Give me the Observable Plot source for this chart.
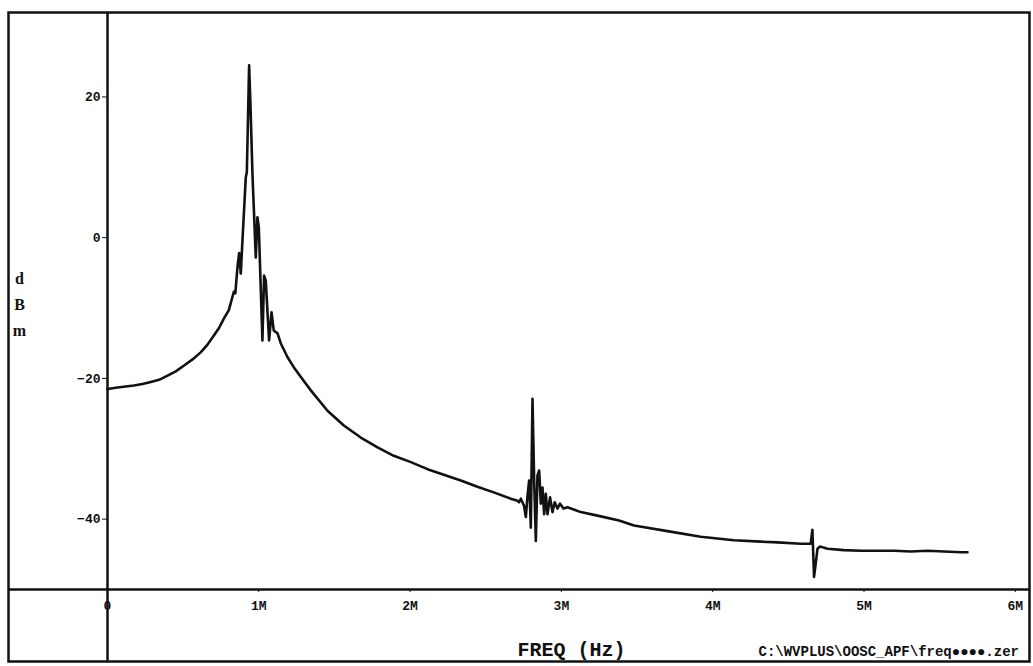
<!DOCTYPE html>
<html>
<head>
<meta charset="utf-8">
<script src="https://cdn.jsdelivr.net/npm/d3@7"></script>
<script src="https://cdn.jsdelivr.net/npm/@observablehq/plot@0.6"></script>
<style>
  html, body { margin: 0; padding: 0; background: #fff; }
  #chart { width: 1033px; height: 666px; overflow: hidden; }
</style>
</head>
<body>
<div id="chart"></div>
<script>
// Frequency in MHz
const freqMHz = [
  0, 0.066, 0.174, 0.231, 0.286, 0.341, 0.397, 0.451, 0.504, 0.562,
  0.616, 0.661, 0.703, 0.738, 0.769, 0.802, 0.826,
  0.835, 0.845, 0.859, 0.870, 0.881, 0.892, 0.914, 0.921, 0.936, 0.944,
  0.958, 0.980, 0.991, 1.000, 1.024, 1.035, 1.046, 1.068, 1.084, 1.099,
  1.124, 1.145, 1.190, 1.231, 1.278, 1.344, 1.454, 1.562, 1.674, 1.785,
  1.892, 2.005, 2.115, 2.223, 2.335, 2.445, 2.553, 2.666, 2.710, 2.720,
  2.732, 2.753, 2.765, 2.776, 2.787, 2.798, 2.809, 2.820, 2.831, 2.842,
  2.853, 2.864, 2.875, 2.886, 2.897, 2.908, 2.925, 2.941, 2.956, 2.974,
  2.991, 3.014, 3.040, 3.128, 3.239, 3.381, 3.480, 3.701, 3.921, 4.141,
  4.318, 4.428, 4.582, 4.648, 4.659, 4.670, 4.693, 4.708, 4.726, 4.759,
  4.868, 4.979, 5.089, 5.199, 5.309, 5.420, 5.529, 5.640, 5.684
];
// Level in dBm
const levelDbm = [
  -21.5, -21.3, -21.0, -20.8, -20.5, -20.2, -19.6, -19.0, -18.2, -17.3,
  -16.3, -15.2, -13.9, -12.8, -11.5, -10.3, -8.4,
  -7.7, -7.9, -4.2, -2.2, -5.1, -0.4, 8.6, 9.3, 24.5, 19.5,
  9.1, -2.8, 2.9, 1.5, -14.6, -5.4, -6.1, -14.6, -10.6, -13.2,
  -13.6, -15.0, -17.0, -18.4, -19.8, -21.7, -24.6, -26.7, -28.4, -29.8,
  -31.0, -31.9, -32.9, -33.7, -34.5, -35.4, -36.2, -37.1, -37.4, -37.6,
  -37.1, -38.1, -39.7, -36.7, -34.5, -41.2, -22.9, -34.5, -43.1, -33.8,
  -33.1, -37.8, -35.5, -39.3, -36.4, -39.3, -36.9, -39.0, -37.6, -38.5,
  -37.8, -38.5, -38.3, -39.0, -39.5, -40.2, -40.9, -41.7, -42.5, -43.0,
  -43.2, -43.3, -43.5, -43.5, -41.5, -48.2, -44.2, -43.9, -44.0, -44.2,
  -44.4, -44.5, -44.5, -44.5, -44.6, -44.5, -44.6, -44.7, -44.7
];
const xTicks = [0, 1, 2, 3, 4, 5, 6];
const xTickLabels = ["0", "1M", "2M", "3M", "4M", "5M", "6M"];
const yTicks = [20, 0, -20, -40];
const yLabel = "d\nB\nm";
const xLabel = "FREQ (Hz)";
const footer = "C:\\WVPLUS\\OOSC_APF\\freq\u25CF\u25CF\u25CF\u25CF.zer";

const data = freqMHz.map((f, i) => ({f, v: levelDbm[i]}));
const ink = "#111";

const chart = Plot.plot({
  width: 1033,
  height: 666,
  marginLeft: 107,
  marginRight: 4,
  marginTop: 12,
  marginBottom: 77,
  style: {
    background: "#fff",
    color: ink,
    fontFamily: "'Liberation Mono', 'DejaVu Sans Mono', monospace",
    fontSize: "13px",
    fontWeight: "bold"
  },
  x: {
    domain: [0, 6.094],
    ticks: xTicks,
    tickFormat: d => xTickLabels[xTicks.indexOf(d)],
    tickSize: 3,
    tickPadding: 8,
    label: null
  },
  y: {
    domain: [-50, 32],
    ticks: yTicks,
    tickSize: 5,
    tickPadding: 2,
    label: null
  },
  marks: [
    Plot.frame({stroke: ink, strokeWidth: 2.5, insetLeft: -99, insetBottom: -72}),
    Plot.ruleY([-50], {stroke: ink, strokeWidth: 2.5, insetLeft: -99}),
    Plot.ruleX([0], {stroke: ink, strokeWidth: 2.5, insetBottom: -72}),
    Plot.line(data, {x: "f", y: "v", stroke: ink, strokeWidth: 2.6, strokeLinejoin: "round"}),
    Plot.text([yLabel], {frameAnchor: "top-left", dx: -88, dy: 289, lineHeight: 1.65,
      fontSize: 16, fontFamily: "'Liberation Serif', serif", fontWeight: "bold", textAnchor: "middle", lineAnchor: "middle"}),
    Plot.text([xLabel], {frameAnchor: "bottom", dx: 3, dy: 60, fontSize: 20,
      fontFamily: "'Liberation Mono', monospace", fontWeight: "bold", lineAnchor: "middle"}),
    Plot.text([footer], {frameAnchor: "bottom-left", dx: 651, dy: 62, fontSize: 14,
      textAnchor: "start", lineAnchor: "middle", textDecoration: "underline"})
  ]
});
document.getElementById("chart").appendChild(chart);
</script>
</body>
</html>
